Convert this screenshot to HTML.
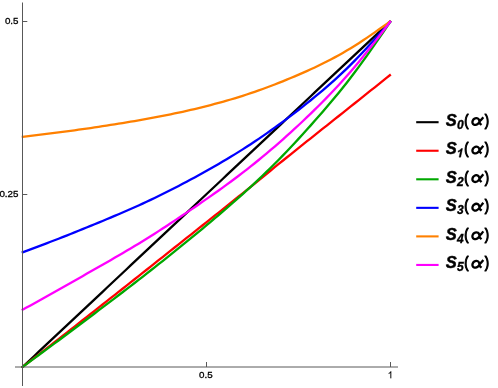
<!DOCTYPE html>
<html><head><meta charset="utf-8"><title>plot</title>
<style>
html,body{margin:0;padding:0;background:#fff;}
body{width:498px;height:388px;overflow:hidden;}
svg{display:block;will-change:transform;}
text{font-family:"Liberation Sans",sans-serif;fill:#000;}
.tk{font-size:9.8px;stroke:#000;stroke-width:0.3px;}
.lt{font-size:16.5px;stroke:#000;stroke-width:0.45px;}
.lp{font-size:16.2px;stroke:#000;stroke-width:1.15px;stroke-linejoin:round;}
.ls{font-size:12px;stroke:#000;stroke-width:0.35px;}
.bi{font-weight:bold;font-style:italic;}
.b{font-weight:bold;}
.cv path{fill:none;stroke-width:2.3;stroke-linejoin:round;stroke-linecap:butt;}
</style></head><body>
<svg width="498" height="388" viewBox="0 0 498 388">
<rect width="498" height="388" fill="#fff"/>
<g class="cv">
<path d="M21.70 367.75 L22.50 367.00 L26.50 363.24 L30.51 359.48 L34.51 355.72 L38.51 351.96 L42.52 348.20 L46.52 344.44 L50.52 340.68 L54.53 336.91 L58.53 333.15 L62.53 329.39 L66.54 325.63 L70.54 321.87 L74.54 318.11 L78.55 314.35 L82.55 310.59 L86.55 306.83 L90.56 303.07 L94.56 299.31 L98.56 295.55 L102.57 291.79 L106.57 288.03 L110.57 284.27 L114.57 280.50 L118.58 276.74 L122.58 272.98 L126.58 269.22 L130.59 265.46 L134.59 261.70 L138.59 257.94 L142.60 254.18 L146.60 250.42 L150.60 246.66 L154.61 242.90 L158.61 239.14 L162.61 235.38 L166.62 231.62 L170.62 227.86 L174.62 224.09 L178.63 220.33 L182.63 216.57 L186.63 212.81 L190.64 209.05 L194.64 205.29 L198.64 201.53 L202.65 197.77 L206.65 194.01 L210.65 190.25 L214.66 186.49 L218.66 182.73 L222.66 178.97 L226.67 175.21 L230.67 171.45 L234.67 167.69 L238.68 163.92 L242.68 160.16 L246.68 156.40 L250.69 152.64 L254.69 148.88 L258.69 145.12 L262.70 141.35 L266.70 137.59 L270.70 133.83 L274.71 130.07 L278.71 126.31 L282.71 122.55 L286.72 118.78 L290.72 115.02 L294.72 111.26 L298.72 107.50 L302.73 103.74 L306.73 99.98 L310.73 96.22 L314.74 92.46 L318.74 88.70 L322.74 84.94 L326.75 81.18 L330.75 77.42 L334.75 73.66 L338.76 69.90 L342.76 66.14 L346.76 62.38 L350.77 58.62 L354.77 54.85 L358.77 51.09 L362.78 47.33 L366.78 43.57 L370.78 39.81 L374.79 36.05 L378.79 32.29 L382.79 28.52 L386.80 24.76 L390.80 21.00" stroke="#000000"/>
<path d="M21.70 367.62 L22.50 367.00 L26.50 363.91 L30.51 360.82 L34.51 357.73 L38.51 354.64 L42.52 351.54 L46.52 348.44 L50.52 345.33 L54.53 342.22 L58.53 339.10 L62.53 335.98 L66.54 332.84 L70.54 329.71 L74.54 326.56 L78.55 323.42 L82.55 320.27 L86.55 317.12 L90.56 313.97 L94.56 310.81 L98.56 307.66 L102.57 304.51 L106.57 301.36 L110.57 298.21 L114.57 295.06 L118.58 291.90 L122.58 288.75 L126.58 285.59 L130.59 282.43 L134.59 279.26 L138.59 276.09 L142.60 272.92 L146.60 269.75 L150.60 266.57 L154.61 263.39 L158.61 260.21 L162.61 257.03 L166.62 253.85 L170.62 250.67 L174.62 247.49 L178.63 244.31 L182.63 241.13 L186.63 237.96 L190.64 234.78 L194.64 231.60 L198.64 228.43 L202.65 225.25 L206.65 222.07 L210.65 218.89 L214.66 215.71 L218.66 212.53 L222.66 209.34 L226.67 206.15 L230.67 202.95 L234.67 199.74 L238.68 196.52 L242.68 193.29 L246.68 190.05 L250.69 186.80 L254.69 183.54 L258.69 180.28 L262.70 177.01 L266.70 173.75 L270.70 170.49 L274.71 167.23 L278.71 163.98 L282.71 160.74 L286.72 157.51 L290.72 154.29 L294.72 151.07 L298.72 147.87 L302.73 144.67 L306.73 141.47 L310.73 138.28 L314.74 135.09 L318.74 131.90 L322.74 128.72 L326.75 125.53 L330.75 122.35 L334.75 119.17 L338.76 115.98 L342.76 112.80 L346.76 109.61 L350.77 106.43 L354.77 103.24 L358.77 100.05 L362.78 96.86 L366.78 93.67 L370.78 90.47 L374.79 87.28 L378.79 84.09 L382.79 80.89 L386.80 77.70 L390.80 74.50" stroke="#ff0000"/>
<path d="M21.70 367.59 L22.50 367.00 L26.50 364.06 L30.51 361.13 L34.51 358.19 L38.51 355.25 L42.52 352.30 L46.52 349.36 L50.52 346.40 L54.53 343.44 L58.53 340.47 L62.53 337.50 L66.54 334.51 L70.54 331.52 L74.54 328.52 L78.55 325.52 L82.55 322.51 L86.55 319.50 L90.56 316.48 L94.56 313.46 L98.56 310.44 L102.57 307.42 L106.57 304.39 L110.57 301.36 L114.57 298.32 L118.58 295.27 L122.58 292.22 L126.58 289.15 L130.59 286.08 L134.59 282.99 L138.59 279.90 L142.60 276.79 L146.60 273.66 L150.60 270.53 L154.61 267.38 L158.61 264.22 L162.61 261.05 L166.62 257.86 L170.62 254.66 L174.62 251.45 L178.63 248.22 L182.63 244.98 L186.63 241.73 L190.64 238.46 L194.64 235.17 L198.64 231.87 L202.65 228.55 L206.65 225.21 L210.65 221.86 L214.66 218.49 L218.66 215.09 L222.66 211.66 L226.67 208.21 L230.67 204.73 L234.67 201.22 L238.68 197.67 L242.68 194.09 L246.68 190.46 L250.69 186.80 L254.69 183.09 L258.69 179.33 L262.70 175.52 L266.70 171.66 L270.70 167.74 L274.71 163.76 L278.71 159.73 L282.71 155.63 L286.72 151.47 L290.72 147.25 L294.72 142.97 L298.72 138.64 L302.73 134.26 L306.73 129.83 L310.73 125.36 L314.74 120.84 L318.74 116.29 L322.74 111.70 L326.75 107.05 L330.75 102.34 L334.75 97.56 L338.76 92.71 L342.76 87.76 L346.76 82.71 L350.77 77.56 L354.77 72.29 L358.77 66.90 L362.78 61.39 L366.78 55.80 L370.78 50.12 L374.79 44.38 L378.79 38.58 L382.79 32.74 L386.80 26.88 L390.80 21.00" stroke="#00a800"/>
<path d="M21.70 252.60 L22.50 252.30 L26.50 250.81 L30.51 249.32 L34.51 247.83 L38.51 246.33 L42.52 244.82 L46.52 243.31 L50.52 241.78 L54.53 240.25 L58.53 238.70 L62.53 237.14 L66.54 235.56 L70.54 233.97 L74.54 232.37 L78.55 230.76 L82.55 229.14 L86.55 227.51 L90.56 225.87 L94.56 224.23 L98.56 222.59 L102.57 220.94 L106.57 219.28 L110.57 217.61 L114.57 215.93 L118.58 214.23 L122.58 212.52 L126.58 210.78 L130.59 209.03 L134.59 207.24 L138.59 205.43 L142.60 203.60 L146.60 201.74 L150.60 199.85 L154.61 197.94 L158.61 196.00 L162.61 194.04 L166.62 192.05 L170.62 190.03 L174.62 188.00 L178.63 185.94 L182.63 183.85 L186.63 181.74 L190.64 179.60 L194.64 177.44 L198.64 175.26 L202.65 173.05 L206.65 170.82 L210.65 168.56 L214.66 166.27 L218.66 163.96 L222.66 161.61 L226.67 159.23 L230.67 156.82 L234.67 154.37 L238.68 151.88 L242.68 149.36 L246.68 146.79 L250.69 144.17 L254.69 141.52 L258.69 138.83 L262.70 136.10 L266.70 133.32 L270.70 130.51 L274.71 127.66 L278.71 124.77 L282.71 121.85 L286.72 118.88 L290.72 115.88 L294.72 112.84 L298.72 109.76 L302.73 106.63 L306.73 103.46 L310.73 100.24 L314.74 96.97 L318.74 93.66 L322.74 90.29 L326.75 86.87 L330.75 83.37 L334.75 79.81 L338.76 76.17 L342.76 72.44 L346.76 68.61 L350.77 64.69 L354.77 60.66 L358.77 56.53 L362.78 52.30 L366.78 47.98 L370.78 43.59 L374.79 39.15 L378.79 34.65 L382.79 30.12 L386.80 25.57 L390.80 21.00" stroke="#0000ff"/>
<path d="M21.70 137.00 L22.50 136.90 L26.50 136.41 L30.51 135.92 L34.51 135.42 L38.51 134.93 L42.52 134.43 L46.52 133.93 L50.52 133.43 L54.53 132.92 L58.53 132.40 L62.53 131.88 L66.54 131.35 L70.54 130.82 L74.54 130.27 L78.55 129.72 L82.55 129.16 L86.55 128.59 L90.56 128.02 L94.56 127.43 L98.56 126.83 L102.57 126.22 L106.57 125.60 L110.57 124.98 L114.57 124.34 L118.58 123.69 L122.58 123.03 L126.58 122.37 L130.59 121.69 L134.59 121.01 L138.59 120.32 L142.60 119.62 L146.60 118.91 L150.60 118.18 L154.61 117.44 L158.61 116.69 L162.61 115.91 L166.62 115.12 L170.62 114.31 L174.62 113.48 L178.63 112.63 L182.63 111.76 L186.63 110.86 L190.64 109.95 L194.64 109.01 L198.64 108.05 L202.65 107.07 L206.65 106.06 L210.65 105.04 L214.66 103.98 L218.66 102.91 L222.66 101.80 L226.67 100.67 L230.67 99.51 L234.67 98.31 L238.68 97.08 L242.68 95.82 L246.68 94.52 L250.69 93.18 L254.69 91.81 L258.69 90.40 L262.70 88.96 L266.70 87.49 L270.70 85.99 L274.71 84.46 L278.71 82.90 L282.71 81.31 L286.72 79.69 L290.72 78.05 L294.72 76.37 L298.72 74.66 L302.73 72.91 L306.73 71.12 L310.73 69.30 L314.74 67.43 L318.74 65.52 L322.74 63.56 L326.75 61.55 L330.75 59.48 L334.75 57.36 L338.76 55.18 L342.76 52.93 L346.76 50.61 L350.77 48.21 L354.77 45.74 L358.77 43.19 L362.78 40.57 L366.78 37.89 L370.78 35.15 L374.79 32.37 L378.79 29.56 L382.79 26.72 L386.80 23.87 L390.80 21.00" stroke="#ff8000"/>
<path d="M21.70 310.24 L22.50 309.80 L26.50 307.60 L30.51 305.40 L34.51 303.19 L38.51 300.98 L42.52 298.77 L46.52 296.55 L50.52 294.32 L54.53 292.08 L58.53 289.83 L62.53 287.57 L66.54 285.30 L70.54 283.03 L74.54 280.74 L78.55 278.45 L82.55 276.16 L86.55 273.86 L90.56 271.57 L94.56 269.28 L98.56 266.99 L102.57 264.71 L106.57 262.43 L110.57 260.14 L114.57 257.84 L118.58 255.53 L122.58 253.20 L126.58 250.85 L130.59 248.48 L134.59 246.08 L138.59 243.65 L142.60 241.19 L146.60 238.71 L150.60 236.20 L154.61 233.66 L158.61 231.10 L162.61 228.52 L166.62 225.92 L170.62 223.30 L174.62 220.65 L178.63 218.00 L182.63 215.32 L186.63 212.62 L190.64 209.91 L194.64 207.18 L198.64 204.44 L202.65 201.67 L206.65 198.90 L210.65 196.10 L214.66 193.28 L218.66 190.44 L222.66 187.58 L226.67 184.68 L230.67 181.75 L234.67 178.78 L238.68 175.77 L242.68 172.71 L246.68 169.60 L250.69 166.45 L254.69 163.24 L258.69 159.99 L262.70 156.69 L266.70 153.34 L270.70 149.95 L274.71 146.52 L278.71 143.04 L282.71 139.52 L286.72 135.95 L290.72 132.34 L294.72 128.68 L298.72 124.98 L302.73 121.23 L306.73 117.43 L310.73 113.57 L314.74 109.67 L318.74 105.71 L322.74 101.70 L326.75 97.63 L330.75 93.48 L334.75 89.26 L338.76 84.95 L342.76 80.56 L346.76 76.07 L350.77 71.48 L354.77 66.78 L358.77 61.97 L362.78 57.07 L366.78 52.07 L370.78 47.01 L374.79 41.88 L378.79 36.70 L382.79 31.49 L386.80 26.25 L390.80 21.00" stroke="#ff00ff"/>
</g>
<g stroke="#585858" stroke-width="1" fill="none">
<line x1="22.5" y1="2.5" x2="22.5" y2="386"/>
<line x1="15" y1="367" x2="398" y2="367"/>
<line x1="22.5" y1="21.5" x2="27.3" y2="21.5"/>
<line x1="22.5" y1="194.5" x2="27.3" y2="194.5"/>
<line x1="206.5" y1="362" x2="206.5" y2="367"/>
<line x1="390.5" y1="362" x2="390.5" y2="367"/>
</g>
<text class="tk" x="18.5" y="24.4" text-anchor="end">0.5</text>
<text class="tk" x="18.5" y="197.1" text-anchor="end">0.25</text>
<text class="tk" x="205.8" y="378.3" text-anchor="middle">0.5</text>
<path transform="translate(387.6 378.3) scale(0.004785 -0.004785)" d="M763 0H583V1147Q518 1085 412.5 1023T223 930V1104Q373 1174.5 485.25 1275T644 1466H763Z" fill="#000" stroke="#000" stroke-width="25"/>
<line x1="416.2" y1="122.2" x2="438.6" y2="122.2" stroke="#000000" stroke-width="2.1"/>
<text x="445.8" y="125.6" class="lt bi">S</text><text x="456.9" y="128.6" class="ls bi">0</text><text transform="translate(464.2 125.6) scale(0.8 1)" class="lp">(</text><path transform="translate(470.9 125.6)" d="M12.39 -8.42 C12.09 -8.04 11.12 -6.83 10.54 -6.13 C9.96 -5.43 9.45 -4.86 8.93 -4.22 C8.42 -3.57 8.02 -2.78 7.45 -2.24 C6.87 -1.69 6.11 -1.19 5.47 -0.94 C4.83 -0.69 4.17 -0.64 3.61 -0.75 C3.06 -0.87 2.48 -1.19 2.13 -1.62 C1.78 -2.05 1.53 -2.74 1.51 -3.35 C1.49 -3.96 1.69 -4.69 2.01 -5.27 C2.32 -5.84 2.87 -6.44 3.43 -6.81 C3.98 -7.18 4.73 -7.46 5.34 -7.49 C5.96 -7.52 6.66 -7.32 7.14 -7.00 C7.61 -6.68 7.94 -6.12 8.19 -5.58 C8.44 -5.03 8.47 -4.32 8.62 -3.72 C8.78 -3.12 8.78 -2.49 9.12 -1.99 C9.46 -1.48 10.41 -0.91 10.66 -0.69" fill="none" stroke="#000" stroke-width="2.3" stroke-linejoin="round"/><text transform="translate(484.8 125.6) scale(0.8 1)" class="lp">)</text>
<line x1="416.2" y1="150.75" x2="438.6" y2="150.75" stroke="#ff0000" stroke-width="2.1"/>
<text x="445.8" y="154.15" class="lt bi">S</text><path transform="translate(456.0 157.15) scale(0.005859 -0.005859) skewX(12)" d="M806 0H525V1059Q371 915 162 846V1101Q272 1137 401 1237.5T578 1472H806Z" fill="#000" stroke="#000" stroke-width="60"/><text transform="translate(464.2 154.15) scale(0.8 1)" class="lp">(</text><path transform="translate(470.9 154.15)" d="M12.39 -8.42 C12.09 -8.04 11.12 -6.83 10.54 -6.13 C9.96 -5.43 9.45 -4.86 8.93 -4.22 C8.42 -3.57 8.02 -2.78 7.45 -2.24 C6.87 -1.69 6.11 -1.19 5.47 -0.94 C4.83 -0.69 4.17 -0.64 3.61 -0.75 C3.06 -0.87 2.48 -1.19 2.13 -1.62 C1.78 -2.05 1.53 -2.74 1.51 -3.35 C1.49 -3.96 1.69 -4.69 2.01 -5.27 C2.32 -5.84 2.87 -6.44 3.43 -6.81 C3.98 -7.18 4.73 -7.46 5.34 -7.49 C5.96 -7.52 6.66 -7.32 7.14 -7.00 C7.61 -6.68 7.94 -6.12 8.19 -5.58 C8.44 -5.03 8.47 -4.32 8.62 -3.72 C8.78 -3.12 8.78 -2.49 9.12 -1.99 C9.46 -1.48 10.41 -0.91 10.66 -0.69" fill="none" stroke="#000" stroke-width="2.3" stroke-linejoin="round"/><text transform="translate(484.8 154.15) scale(0.8 1)" class="lp">)</text>
<line x1="416.2" y1="179.3" x2="438.6" y2="179.3" stroke="#00a800" stroke-width="2.1"/>
<text x="445.8" y="182.7" class="lt bi">S</text><text x="456.9" y="185.7" class="ls bi">2</text><text transform="translate(464.2 182.7) scale(0.8 1)" class="lp">(</text><path transform="translate(470.9 182.7)" d="M12.39 -8.42 C12.09 -8.04 11.12 -6.83 10.54 -6.13 C9.96 -5.43 9.45 -4.86 8.93 -4.22 C8.42 -3.57 8.02 -2.78 7.45 -2.24 C6.87 -1.69 6.11 -1.19 5.47 -0.94 C4.83 -0.69 4.17 -0.64 3.61 -0.75 C3.06 -0.87 2.48 -1.19 2.13 -1.62 C1.78 -2.05 1.53 -2.74 1.51 -3.35 C1.49 -3.96 1.69 -4.69 2.01 -5.27 C2.32 -5.84 2.87 -6.44 3.43 -6.81 C3.98 -7.18 4.73 -7.46 5.34 -7.49 C5.96 -7.52 6.66 -7.32 7.14 -7.00 C7.61 -6.68 7.94 -6.12 8.19 -5.58 C8.44 -5.03 8.47 -4.32 8.62 -3.72 C8.78 -3.12 8.78 -2.49 9.12 -1.99 C9.46 -1.48 10.41 -0.91 10.66 -0.69" fill="none" stroke="#000" stroke-width="2.3" stroke-linejoin="round"/><text transform="translate(484.8 182.7) scale(0.8 1)" class="lp">)</text>
<line x1="416.2" y1="207.85" x2="438.6" y2="207.85" stroke="#0000ff" stroke-width="2.1"/>
<text x="445.8" y="211.25" class="lt bi">S</text><text x="456.9" y="214.25" class="ls bi">3</text><text transform="translate(464.2 211.25) scale(0.8 1)" class="lp">(</text><path transform="translate(470.9 211.25)" d="M12.39 -8.42 C12.09 -8.04 11.12 -6.83 10.54 -6.13 C9.96 -5.43 9.45 -4.86 8.93 -4.22 C8.42 -3.57 8.02 -2.78 7.45 -2.24 C6.87 -1.69 6.11 -1.19 5.47 -0.94 C4.83 -0.69 4.17 -0.64 3.61 -0.75 C3.06 -0.87 2.48 -1.19 2.13 -1.62 C1.78 -2.05 1.53 -2.74 1.51 -3.35 C1.49 -3.96 1.69 -4.69 2.01 -5.27 C2.32 -5.84 2.87 -6.44 3.43 -6.81 C3.98 -7.18 4.73 -7.46 5.34 -7.49 C5.96 -7.52 6.66 -7.32 7.14 -7.00 C7.61 -6.68 7.94 -6.12 8.19 -5.58 C8.44 -5.03 8.47 -4.32 8.62 -3.72 C8.78 -3.12 8.78 -2.49 9.12 -1.99 C9.46 -1.48 10.41 -0.91 10.66 -0.69" fill="none" stroke="#000" stroke-width="2.3" stroke-linejoin="round"/><text transform="translate(484.8 211.25) scale(0.8 1)" class="lp">)</text>
<line x1="416.2" y1="236.4" x2="438.6" y2="236.4" stroke="#ff8000" stroke-width="2.1"/>
<text x="445.8" y="239.8" class="lt bi">S</text><text x="456.9" y="242.8" class="ls bi">4</text><text transform="translate(464.2 239.8) scale(0.8 1)" class="lp">(</text><path transform="translate(470.9 239.8)" d="M12.39 -8.42 C12.09 -8.04 11.12 -6.83 10.54 -6.13 C9.96 -5.43 9.45 -4.86 8.93 -4.22 C8.42 -3.57 8.02 -2.78 7.45 -2.24 C6.87 -1.69 6.11 -1.19 5.47 -0.94 C4.83 -0.69 4.17 -0.64 3.61 -0.75 C3.06 -0.87 2.48 -1.19 2.13 -1.62 C1.78 -2.05 1.53 -2.74 1.51 -3.35 C1.49 -3.96 1.69 -4.69 2.01 -5.27 C2.32 -5.84 2.87 -6.44 3.43 -6.81 C3.98 -7.18 4.73 -7.46 5.34 -7.49 C5.96 -7.52 6.66 -7.32 7.14 -7.00 C7.61 -6.68 7.94 -6.12 8.19 -5.58 C8.44 -5.03 8.47 -4.32 8.62 -3.72 C8.78 -3.12 8.78 -2.49 9.12 -1.99 C9.46 -1.48 10.41 -0.91 10.66 -0.69" fill="none" stroke="#000" stroke-width="2.3" stroke-linejoin="round"/><text transform="translate(484.8 239.8) scale(0.8 1)" class="lp">)</text>
<line x1="416.2" y1="264.95" x2="438.6" y2="264.95" stroke="#ff00ff" stroke-width="2.1"/>
<text x="445.8" y="268.35" class="lt bi">S</text><text x="456.9" y="271.35" class="ls bi">5</text><text transform="translate(464.2 268.35) scale(0.8 1)" class="lp">(</text><path transform="translate(470.9 268.35)" d="M12.39 -8.42 C12.09 -8.04 11.12 -6.83 10.54 -6.13 C9.96 -5.43 9.45 -4.86 8.93 -4.22 C8.42 -3.57 8.02 -2.78 7.45 -2.24 C6.87 -1.69 6.11 -1.19 5.47 -0.94 C4.83 -0.69 4.17 -0.64 3.61 -0.75 C3.06 -0.87 2.48 -1.19 2.13 -1.62 C1.78 -2.05 1.53 -2.74 1.51 -3.35 C1.49 -3.96 1.69 -4.69 2.01 -5.27 C2.32 -5.84 2.87 -6.44 3.43 -6.81 C3.98 -7.18 4.73 -7.46 5.34 -7.49 C5.96 -7.52 6.66 -7.32 7.14 -7.00 C7.61 -6.68 7.94 -6.12 8.19 -5.58 C8.44 -5.03 8.47 -4.32 8.62 -3.72 C8.78 -3.12 8.78 -2.49 9.12 -1.99 C9.46 -1.48 10.41 -0.91 10.66 -0.69" fill="none" stroke="#000" stroke-width="2.3" stroke-linejoin="round"/><text transform="translate(484.8 268.35) scale(0.8 1)" class="lp">)</text>

</svg>
</body></html>
